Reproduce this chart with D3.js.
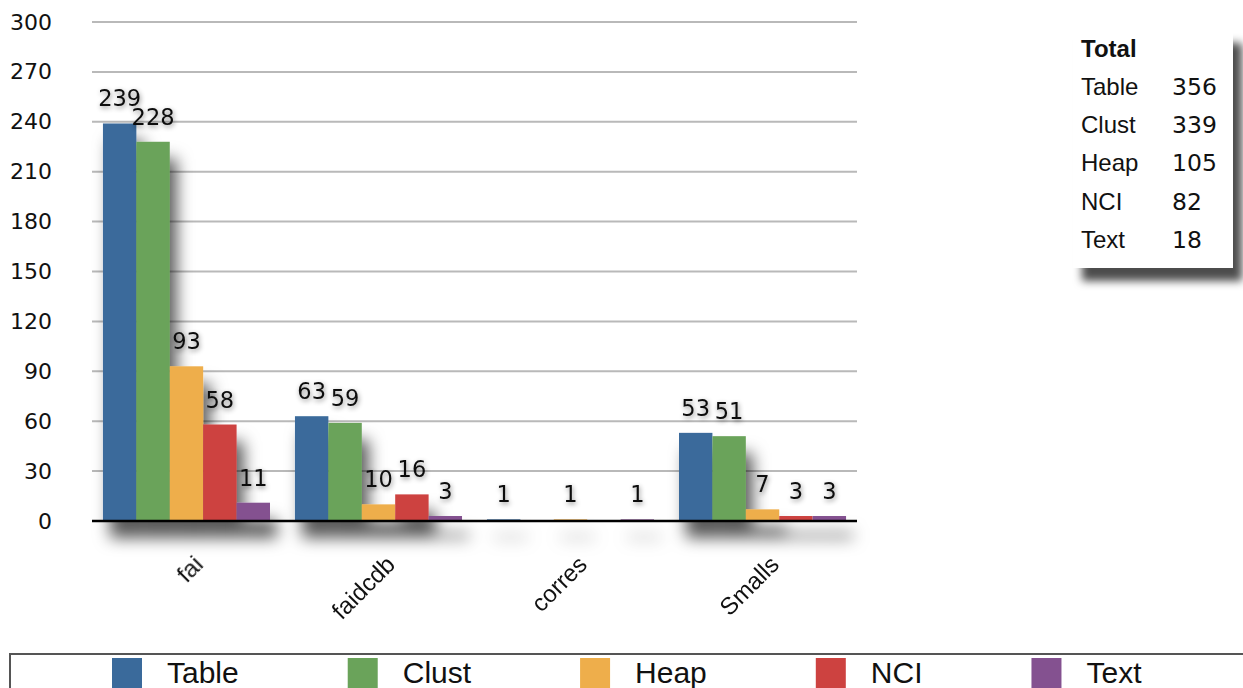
<!DOCTYPE html>
<html>
<head>
<meta charset="utf-8">
<script src="https://cdn.jsdelivr.net/npm/d3@7/dist/d3.min.js"></script>
<style>
  html, body { margin: 0; padding: 0; background: #fff; }
  svg { display: block; font-family: "Liberation Sans", Arial, Helvetica, sans-serif; }
  .num { font-family: "DejaVu Sans", sans-serif; }
</style>
</head>
<body>
<svg id="chart" width="1243" height="688"></svg>
<script>
// Groups along the x axis
const categories = ["fai", "faidcdb", "corres", "Smalls"];
// Series, one value per group
const seriesNames = ["Table", "Clust", "Heap", "NCI", "Text"];
const tableValues = [239, 63, 1, 53];
const clustValues = [228, 59, 0, 51];
const heapValues  = [93, 10, 1, 7];
const nciValues   = [58, 16, 0, 3];
const textValues  = [11, 3, 1, 3];
// Summary box
const totalLabels = ["Table", "Clust", "Heap", "NCI", "Text"];
const totalValues = [356, 339, 105, 82, 18];
// Y axis ticks
const yTicks = [0, 30, 60, 90, 120, 150, 180, 210, 240, 270, 300];

const colors = ["#3a6a9b", "#6aa35a", "#eeae4b", "#cd4240", "#845190"];
const seriesValues = [tableValues, clustValues, heapValues, nciValues, textValues];

const svg = d3.select("#chart");
const defs = svg.append("defs");

// Soft drop shadow under the bars
const sh = defs.append("filter").attr("id", "barShadow")
  .attr("x", "-20%").attr("y", "-20%").attr("width", "150%").attr("height", "150%");
sh.append("feDropShadow").attr("dx", 7).attr("dy", 17).attr("stdDeviation", 8)
  .attr("flood-color", "#000").attr("flood-opacity", 0.65);

// Shadow under the summary box
const boxShadow = defs.append("filter").attr("id", "boxShadow")
  .attr("x", "-20%").attr("y", "-20%").attr("width", "150%").attr("height", "150%");
boxShadow.append("feDropShadow").attr("dx", 9).attr("dy", 13).attr("stdDeviation", 4)
  .attr("flood-color", "#000").attr("flood-opacity", 0.7);

// Halo behind value labels
const ts = defs.append("filter").attr("id", "textShadow")
  .attr("x", "-30%").attr("y", "-30%").attr("width", "160%").attr("height", "160%");
ts.append("feDropShadow").attr("dx", 1).attr("dy", 2).attr("stdDeviation", 2.5)
  .attr("flood-color", "#000").attr("flood-opacity", 0.45);

const plotLeft = 92, plotRight = 857, plotTop = 22, plotBottom = 521;

const y = d3.scaleLinear().domain([0, 300]).range([plotBottom, plotTop]);
const x0 = d3.scaleBand().domain(categories).range([plotLeft, plotRight])
  .paddingInner(0.13).paddingOuter(0.057);
const x1 = d3.scaleBand().domain(seriesNames).range([0, x0.bandwidth()]);

// Grid lines
svg.append("g").selectAll("line").data(yTicks.filter(t => t > 0)).join("line")
  .attr("x1", plotLeft).attr("x2", plotRight)
  .attr("y1", d => y(d)).attr("y2", d => y(d))
  .attr("stroke", "#b9b9b9").attr("stroke-width", 2);

// Y axis labels
const yAxis = d3.axisLeft(y).tickValues(yTicks).tickSize(0).tickPadding(0);
const yg = svg.append("g").attr("transform", `translate(${plotLeft - 40},0)`).call(yAxis);
yg.select(".domain").remove();
yg.selectAll("text").attr("font-size", 22).attr("fill", "#111")
  .attr("font-family", "DejaVu Sans, sans-serif");

// Bars
const rows = categories.map((c, i) => seriesNames.map((s, j) => ({ cat: c, series: s, j, value: seriesValues[j][i] })));
const barLayer = svg.append("g").attr("filter", "url(#barShadow)");
barLayer.selectAll("g").data(rows).join("g")
  .attr("transform", d => `translate(${x0(d[0].cat)},0)`)
  .selectAll("rect").data(d => d.filter(v => v.value > 0)).join("rect")
  .attr("x", d => x1(d.series))
  .attr("width", x1.bandwidth())
  .attr("y", d => y(d.value))
  .attr("height", d => y(0) - y(d.value))
  .attr("fill", d => colors[d.j]);

// Baseline
svg.append("line").attr("x1", plotLeft).attr("x2", plotRight)
  .attr("y1", plotBottom).attr("y2", plotBottom)
  .attr("stroke", "#000").attr("stroke-width", 2.5);

// Value labels
const labelLayer = svg.append("g").attr("filter", "url(#textShadow)");
labelLayer.selectAll("g").data(rows).join("g")
  .attr("transform", d => `translate(${x0(d[0].cat)},0)`)
  .selectAll("text").data(d => d.filter(v => v.value > 0)).join("text")
  .attr("class", "num")
  .attr("x", d => x1(d.series) + x1.bandwidth() / 2)
  .attr("y", d => y(d.value) - 17)
  .attr("text-anchor", "middle")
  .attr("font-size", 22.5)
  .attr("fill", "#111")
  .text(d => d.value);

// Category labels
const xAxis = d3.axisBottom(x0).tickSize(0).tickPadding(0);
const xg = svg.append("g").attr("transform", `translate(0,${plotBottom})`).call(xAxis);
xg.select(".domain").remove();
xg.selectAll("text")
  .attr("font-size", 24).attr("fill", "#111")
  .attr("font-family", "Liberation Sans, Arial, sans-serif")
  .attr("text-anchor", "end")
  .attr("dy", null).attr("y", 0)
  .attr("transform", "translate(18,45) rotate(-45)");

// Summary box
const box = svg.append("g").attr("transform", "translate(1073,30)");
box.append("rect").attr("width", 160).attr("height", 238).attr("fill", "#fff")
  .attr("filter", "url(#boxShadow)");
box.append("text").attr("x", 8).attr("y", 27).attr("font-size", 24)
  .attr("font-weight", "bold").attr("fill", "#111").text("Total");
const rowsG = box.selectAll("g.row").data(totalLabels).join("g").attr("class", "row")
  .attr("transform", (d, i) => `translate(0,${65 + i * 38.2})`);
rowsG.append("text").attr("x", 8).attr("font-size", 24).attr("fill", "#111").text(d => d);
rowsG.append("text").attr("class", "num").attr("x", 99).attr("font-size", 23.5).attr("fill", "#111")
  .text((d, i) => totalValues[i]);

// Legend
const legend = svg.append("g");
legend.append("rect").attr("x", 10).attr("y", 654).attr("width", 1250).attr("height", 60)
  .attr("fill", "#fff").attr("stroke", "#555").attr("stroke-width", 2);
let lx = 112;
seriesNames.forEach((s, i) => {
  legend.append("rect").attr("x", lx).attr("y", 658).attr("width", 30).attr("height", 34)
    .attr("fill", colors[i]);
  const t = legend.append("text").attr("x", lx + 55).attr("y", 683).attr("font-size", 30)
    .attr("fill", "#111").text(s);
  lx += t.node().getComputedTextLength() + 164;
});
</script>
</body>
</html>
